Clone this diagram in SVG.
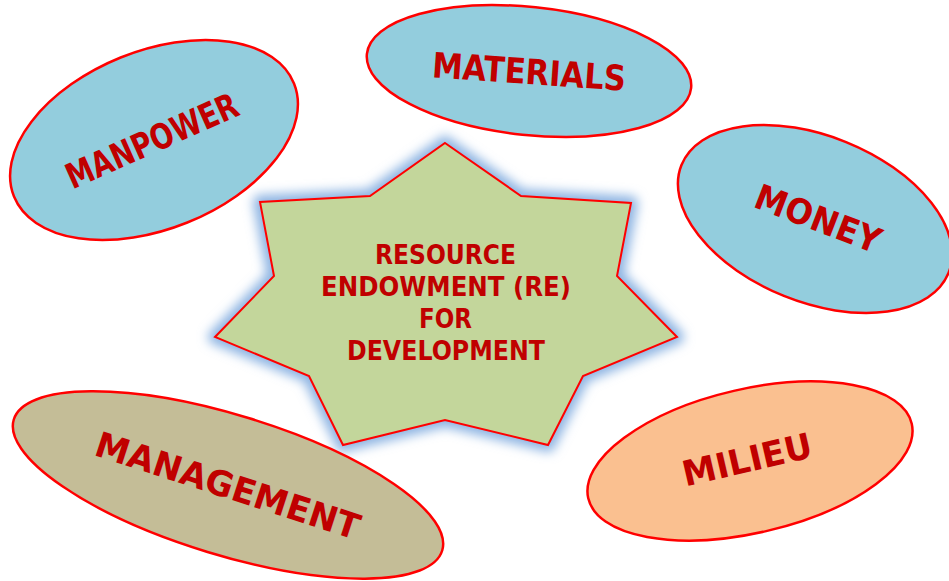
<svg xmlns="http://www.w3.org/2000/svg" width="949" height="581" viewBox="0 0 949 581">
  <defs>
    <filter id="halo" x="-20%" y="-20%" width="140%" height="140%">
      <feGaussianBlur stdDeviation="5.5"/>
    </filter>
    <style>
      .oval { stroke: #FF0000; stroke-width: 2.5; }
      .blue { fill: #93CDDD; }
      .tan { fill: #C4BD97; }
      .peach { fill: #FAC090; }
      .label { font-family: "Comic Sans MS", "DejaVu Sans", sans-serif; font-weight: bold; fill: #C00000; text-anchor: middle; }
      .big { font-size: 35px; }
      .core { font-size: 26px; }
    </style>
  </defs>

  <rect width="949" height="581" fill="#FFFFFF"/>

  <!-- central star with soft blue glow -->
  <g id="resource-endowment">
    <polygon filter="url(#halo)" fill="#8DB4E2" stroke="#8DB4E2" stroke-width="14" stroke-linejoin="round"
      points="445,143 521,196 631,203 617,276 677,337 583,376 548,445 445,420 343,445 309,376 215,337 274,276 260,202 370,196"/>
    <polygon fill="#C3D69B" stroke="#FF0000" stroke-width="2"
      points="445,143 521,196 631,203 617,276 677,337 583,376 548,445 445,420 343,445 309,376 215,337 274,276 260,202 370,196"/>
    <text class="label core" x="445.5" y="264" textLength="141" lengthAdjust="spacingAndGlyphs">RESOURCE</text>
    <text class="label core" x="446" y="296" textLength="250" lengthAdjust="spacingAndGlyphs">ENDOWMENT (RE)</text>
    <text class="label core" x="445.5" y="328" textLength="53" lengthAdjust="spacingAndGlyphs">FOR</text>
    <text class="label core" x="446" y="360" textLength="198" lengthAdjust="spacingAndGlyphs">DEVELOPMENT</text>
  </g>

  <g id="manpower">
    <ellipse class="oval blue" cx="154" cy="140" rx="151" ry="89" transform="rotate(-22 154 140)"/>
    <text class="label big" transform="translate(152 141) rotate(-24)" x="0" y="12" textLength="185" lengthAdjust="spacingAndGlyphs">MANPOWER</text>
  </g>

  <g id="materials">
    <ellipse class="oval blue" cx="529" cy="71" rx="163" ry="64" transform="rotate(6 529 71)"/>
    <text class="label big" transform="translate(529 72) rotate(4)" x="0" y="12" textLength="194" lengthAdjust="spacingAndGlyphs">MATERIALS</text>
  </g>

  <g id="money">
    <ellipse class="oval blue" cx="815" cy="219" rx="144" ry="83" transform="rotate(22 815 219)"/>
    <text class="label big" transform="translate(818 219) rotate(21)" x="0" y="12" textLength="132" lengthAdjust="spacingAndGlyphs">MONEY</text>
  </g>

  <g id="management">
    <ellipse class="oval tan" cx="228" cy="485" rx="224" ry="70" transform="rotate(17 228 485)"/>
    <text class="label big" transform="translate(228 485) rotate(18)" x="0" y="13" textLength="276" lengthAdjust="spacingAndGlyphs">MANAGEMENT</text>
  </g>

  <g id="milieu">
    <ellipse class="oval peach" cx="750" cy="461" rx="166" ry="72" transform="rotate(-13 750 461)"/>
    <text class="label big" transform="translate(747 459) rotate(-13)" x="0" y="13" textLength="132" lengthAdjust="spacingAndGlyphs">MILIEU</text>
  </g>

  <!-- no connectors between the nodes -->
  <g id="connectors"/>
</svg>
